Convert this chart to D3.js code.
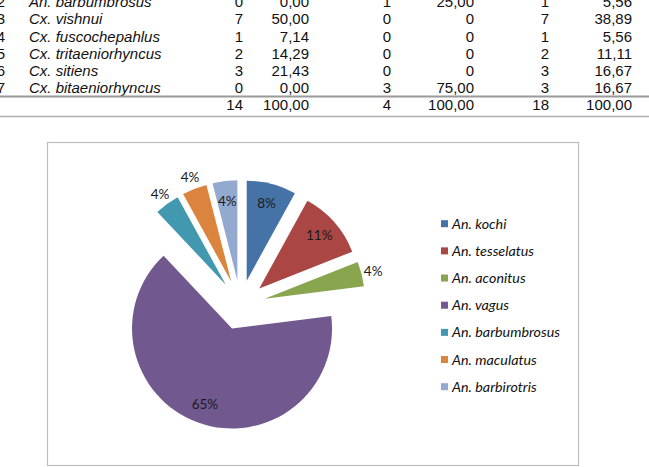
<!DOCTYPE html>
<meta charset="utf-8">
<style>
body { margin: 0; background: #fff; }
.tbl text { font: 15px "Liberation Sans", Arial, sans-serif; fill: #111; }
.tbl .sp { font-style: italic; }
.lbl { font: 13.5px Lato, "Open Sans", sans-serif; fill: #1a1a1a; text-anchor: middle; }
.leg text { font: italic 14.3px Lato, "Open Sans", sans-serif; fill: #111; }
</style>
<svg width="649" height="467"></svg>
<script src="https://cdn.jsdelivr.net/npm/d3@7"></script>
<script>

// table fragment (top of page)
var rowNo    = ["2", "3", "4", "5", "6", "7"];
var species  = ["An. barbumbrosus", "Cx. vishnui", "Cx. fuscochepahlus", "Cx. tritaeniorhyncus", "Cx. sitiens", "Cx. bitaeniorhyncus"];
var countA   = ["0", "7", "1", "2", "3", "0"];
var pctA     = ["0,00", "50,00", "7,14", "14,29", "21,43", "0,00"];
var countB   = ["1", "0", "0", "0", "0", "3"];
var pctB     = ["25,00", "0", "0", "0", "0", "75,00"];
var countT   = ["1", "7", "1", "2", "3", "3"];
var pctT     = ["5,56", "38,89", "5,56", "11,11", "16,67", "16,67"];
var totals   = ["14", "100,00", "4", "100,00", "18", "100,00"];

// pie
var categories = ["An. kochi", "An. tesselatus", "An. aconitus", "An. vagus", "An. barbumbrosus", "An. maculatus", "An. barbirotris"];
var percents   = [8, 11, 4, 65, 4, 4, 4];
var colors     = ["#4572A7", "#AA4643", "#89A54E", "#71588F", "#4198AF", "#DB843D", "#93A9CF"];

var svg = d3.select("svg");

// ---- table ----
var tbl = svg.append("g").attr("class", "tbl");
var y = d3.scalePoint().domain(d3.range(rowNo.length + 1)).range([2, 105]);

var cols = [
  {vals: rowNo,   x: 5,   anchor: "end"},
  {vals: species, x: 29,  anchor: "start", cls: "sp"},
  {vals: countA,  x: 243, anchor: "end"},
  {vals: pctA,    x: 309, anchor: "end"},
  {vals: countB,  x: 391, anchor: "end"},
  {vals: pctB,    x: 474, anchor: "end"},
  {vals: countT,  x: 549, anchor: "end"},
  {vals: pctT,    x: 632, anchor: "end"}
];
cols.forEach(function(c) {
  tbl.selectAll(null)
    .data(c.vals)
    .enter().append("text")
      .attr("class", c.cls || null)
      .attr("x", c.x)
      .attr("y", function(d, i) { return y(i); })
      .attr("dy", "0.35em")
      .attr("text-anchor", c.anchor)
      .text(function(d) { return d; });
});
tbl.selectAll(".tot")
  .data(totals)
  .enter().append("text")
    .attr("class", "tot")
    .attr("x", function(d, i) { return cols[i + 2].x; })
    .attr("y", y(rowNo.length))
    .attr("dy", "0.35em")
    .attr("text-anchor", "end")
    .text(function(d) { return d; });

tbl.append("line").attr("x1", 0).attr("x2", 649).attr("y1", 96.5).attr("y2", 96.5)
  .attr("stroke", "#9a9a9a").attr("stroke-width", 2);
tbl.append("line").attr("x1", 0).attr("x2", 649).attr("y1", 116.5).attr("y2", 116.5)
  .attr("stroke", "#b0b0b0").attr("stroke-width", 1.5);

// ---- chart box ----
svg.append("rect")
  .attr("x", 47.5).attr("y", 142.5).attr("width", 531).attr("height", 323)
  .attr("fill", "#fff").attr("stroke", "#bdbdbd").attr("stroke-width", 1.2);

var cx = 240.5, cy = 305, r = 100, explode = 25;
var outside = {"An. aconitus": 1, "An. barbumbrosus": 1, "An. maculatus": 1};

var pie = d3.pie().sort(null).value(function(d) { return d; });
var arcs = pie(percents);
var arc = d3.arc().innerRadius(0).outerRadius(r);

var g = svg.append("g").attr("transform", "translate(" + cx + "," + cy + ")");

var slice = g.selectAll(".slice")
  .data(arcs)
  .enter().append("g")
    .attr("class", "slice")
    .attr("transform", function(d) {
      var a = (d.startAngle + d.endAngle) / 2;
      return "translate(" + Math.sin(a) * explode + "," + (-Math.cos(a) * explode) + ")";
    });

slice.append("path")
  .attr("d", arc)
  .attr("fill", function(d, i) { return colors[i]; });

slice.append("text")
  .attr("class", "lbl")
  .attr("transform", function(d, i) {
    var a = (d.startAngle + d.endAngle) / 2;
    var k = outside[categories[i]] ? 1.12 : 0.8;
    return "translate(" + Math.sin(a) * r * k + "," + (-Math.cos(a) * r * k) + ")";
  })
  .attr("dy", "0.35em")
  .text(function(d) { return d.value + "%"; });

// ---- legend ----
var ly = d3.scalePoint().domain(categories).range([223.7, 386.7]);
var leg = svg.append("g").attr("class", "leg")
  .selectAll("g")
  .data(categories)
  .enter().append("g")
    .attr("transform", function(d) { return "translate(441," + ly(d) + ")"; });
leg.append("rect")
  .attr("x", 0).attr("y", -3.5).attr("width", 7).attr("height", 7)
  .attr("fill", function(d, i) { return colors[i]; });
leg.append("text")
  .attr("x", 11)
  .attr("dy", "0.35em")
  .text(function(d) { return d; });

</script>
